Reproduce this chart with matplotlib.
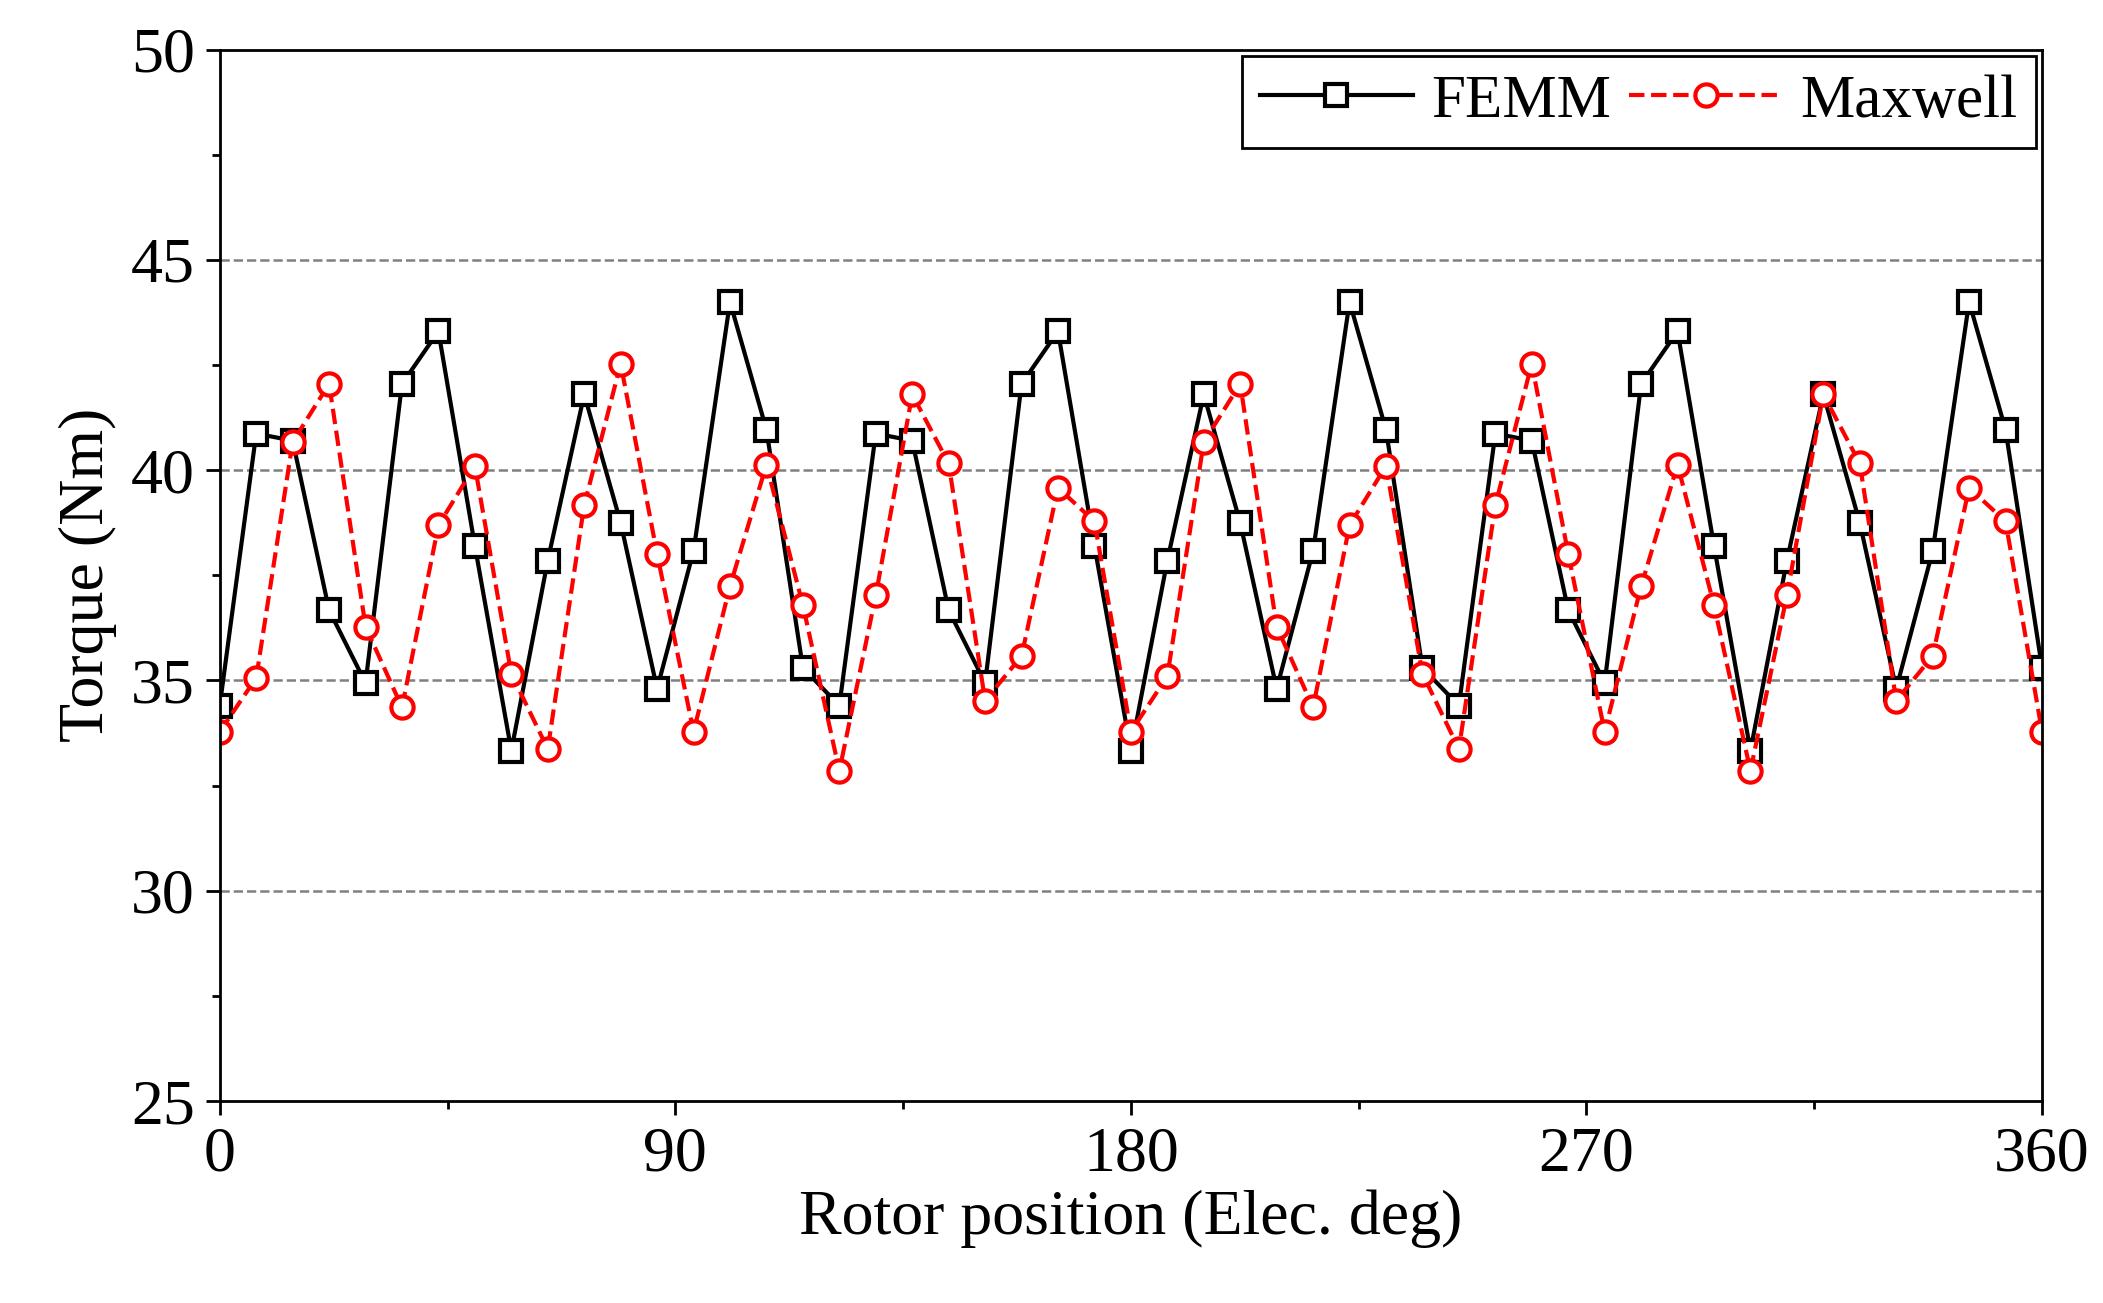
import matplotlib.pyplot as plt
import numpy as np

plt.rcParams['font.family'] = 'Liberation Serif'
plt.rcParams['axes.linewidth'] = 2.0

angle = np.linspace(0, 360, 51)
femm = [34.4, 40.87, 40.7, 36.67, 34.94, 42.05, 43.3, 38.2, 33.33, 37.85,
        41.8, 38.75, 34.8, 38.08, 44.0, 40.96, 35.3, 34.4, 40.87, 40.7,
        36.67, 34.94, 42.05, 43.3, 38.2, 33.33, 37.85, 41.8, 38.75, 34.8,
        38.08, 44.0, 40.96, 35.3, 34.4, 40.87, 40.7, 36.67, 34.94, 42.05,
        43.3, 38.2, 33.33, 37.85, 41.8, 38.75, 34.8, 38.08, 44.0, 40.96, 35.3]
maxwell = [33.78, 35.06, 40.67, 42.05, 36.28, 34.36, 38.69, 40.1, 35.16, 33.37,
           39.17, 42.53, 38.01, 33.78, 37.24, 40.13, 36.79, 32.85, 37.02, 41.8,
           40.16, 34.52, 35.58, 39.58, 38.78, 33.78, 35.1, 40.67, 42.05, 36.28,
           34.36, 38.69, 40.1, 35.16, 33.37, 39.17, 42.53, 38.01, 33.78, 37.24,
           40.13, 36.79, 32.85, 37.02, 41.8, 40.16, 34.52, 35.58, 39.58, 38.78, 33.78]

fig = plt.figure(figsize=(21.03, 13.03), dpi=100)
ax = fig.add_axes([0.1045, 0.155, 0.8665, 0.807])

for yv in [30, 35, 40, 45]:
    ax.axhline(yv, color='gray', ls='--', lw=1.8, zorder=0)

ax.plot(angle, femm, '-s', color='black', lw=3, ms=16, mfc='white', mec='black', mew=3, label='FEMM')
ax.plot(angle, maxwell, '--o', color='red', lw=3, ms=16, mfc='white', mec='red', mew=3, label='Maxwell')

ax.set_xlim(0, 360)
ax.set_ylim(25, 50)
ax.set_xticks([0, 90, 180, 270, 360])
ax.set_xticks([45, 135, 225, 315], minor=True)
ax.set_yticks([25, 30, 35, 40, 45, 50])
ax.set_yticks(np.arange(27.5, 50, 5), minor=True)
ax.tick_params(labelsize=46, width=2, length=10, direction='out', pad=8)
ax.tick_params(which='minor', width=2, length=6)
ax.set_xlabel('Rotor position (Elec. deg)', fontsize=46, labelpad=4)
ax.set_ylabel('Torque (Nm)', fontsize=46, labelpad=10)

leg = ax.legend(loc='upper right', ncol=2, fontsize=44, fancybox=False, framealpha=1,
                edgecolor='black', handlelength=2.5, columnspacing=0.3,
                handletextpad=0.3, borderaxespad=0.1, borderpad=0.3)
leg.get_frame().set_linewidth(2)

plt.savefig('out.png', dpi=100)
